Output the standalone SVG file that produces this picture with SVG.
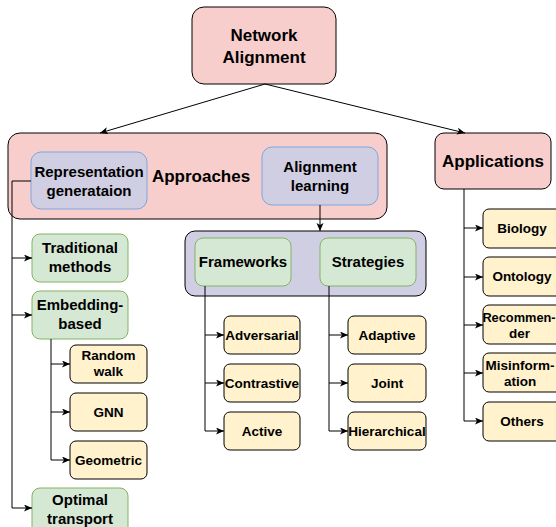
<svg xmlns="http://www.w3.org/2000/svg" width="556" height="527" viewBox="0 0 556 527">
<defs>
<marker id="ah" markerWidth="10" markerHeight="8" refX="8" refY="3.5" orient="auto" markerUnits="userSpaceOnUse">
<path d="M0,0 L8,3.5 L0,7 L2,3.5 z" fill="#000"/>
</marker>
<style>
text{font-family:"Liberation Sans",Arial,sans-serif;font-weight:bold;fill:#000;text-anchor:middle}
.pink{fill:#f8cecc;stroke:#000;stroke-width:1}
.lav{fill:#d0cee2;stroke:#7ea6e0;stroke-width:1}
.cont{fill:#d0cee2;stroke:#000;stroke-width:1}
.green{fill:#d5e8d4;stroke:#82b366;stroke-width:1}
.yel{fill:#fff2cc;stroke:#000;stroke-width:1}
.c{fill:none;stroke:#000;stroke-width:1}
.a{fill:none;stroke:#000;stroke-width:1;marker-end:url(#ah)}
.big{font-size:17px}
.mid{font-size:15px}
.sm{font-size:13.5px}
.xs{font-size:12.8px}
</style>
</defs>
<rect width="556" height="527" fill="#fff"/>

<g id="network-alignment">
<rect class="pink" x="192" y="7" width="144" height="77" rx="12"/>
<text class="big" x="264" y="41">Network</text>
<text class="big" x="264" y="63">Alignment</text>
</g>

<g id="approaches">
<rect class="pink" x="8" y="133" width="379" height="86" rx="12"/>
<text class="big" x="201" y="182">Approaches</text>
</g>

<g id="representation-generation">
<rect class="lav" x="31" y="152" width="116" height="57" rx="10"/>
<text class="mid" x="89" y="177">Representation</text>
<text class="mid" x="89" y="196">generataion</text>
</g>

<g id="alignment-learning">
<rect class="lav" x="262" y="147" width="116" height="58" rx="10"/>
<text class="mid" x="320" y="172">Alignment</text>
<text class="mid" x="320" y="191">learning</text>
</g>

<g id="applications">
<rect class="pink" x="435" y="133" width="116" height="56" rx="9"/>
<text class="big" x="493" y="167">Applications</text>
</g>

<g id="alignment-container">
<rect class="cont" x="185" y="231" width="241" height="65" rx="10"/>
</g>

<g id="frameworks">
<rect class="green" x="195" y="238" width="96" height="48" rx="8"/>
<text class="mid" x="243" y="267">Frameworks</text>
</g>

<g id="strategies">
<rect class="green" x="320" y="238" width="96" height="48" rx="8"/>
<text class="mid" x="368" y="267">Strategies</text>
</g>

<g id="traditional-methods">
<rect class="green" x="32" y="234" width="96" height="48" rx="8"/>
<text class="mid" x="80" y="253">Traditional</text>
<text class="mid" x="80" y="272">methods</text>
</g>

<g id="embedding-based">
<rect class="green" x="32" y="291" width="96" height="48" rx="8"/>
<text class="mid" x="80" y="310">Embedding-</text>
<text class="mid" x="80" y="329">based</text>
</g>

<g id="optimal-transport">
<rect class="green" x="32" y="488" width="96" height="48" rx="8"/>
<text class="mid" x="80" y="505">Optimal</text>
<text class="mid" x="80" y="524">transport</text>
</g>

<g id="random-walk">
<rect class="yel" x="70" y="345" width="77" height="38" rx="6"/>
<text class="sm" x="108.5" y="360">Random</text>
<text class="sm" x="108.5" y="376">walk</text>
</g>

<g id="gnn">
<rect class="yel" x="70" y="393" width="77" height="38" rx="6"/>
<text class="sm" x="108.5" y="417">GNN</text>
</g>

<g id="geometric">
<rect class="yel" x="70" y="441" width="77" height="38" rx="6"/>
<text class="sm" x="108.5" y="465">Geometric</text>
</g>

<g id="adversarial">
<rect class="yel" x="224" y="316" width="76" height="38" rx="6"/>
<text class="sm" x="262" y="340">Adversarial</text>
</g>

<g id="contrastive">
<rect class="yel" x="224" y="364" width="76" height="38" rx="6"/>
<text class="sm" x="262" y="388">Contrastive</text>
</g>

<g id="active">
<rect class="yel" x="224" y="412" width="76" height="38" rx="6"/>
<text class="sm" x="262" y="436">Active</text>
</g>

<g id="adaptive">
<rect class="yel" x="348" y="316" width="78" height="38" rx="6"/>
<text class="sm" x="387" y="340">Adaptive</text>
</g>

<g id="joint">
<rect class="yel" x="348" y="364" width="78" height="38" rx="6"/>
<text class="sm" x="387" y="388">Joint</text>
</g>

<g id="hierarchical">
<rect class="yel" x="348" y="412" width="78" height="38" rx="6"/>
<text class="sm" x="387" y="436">Hierarchical</text>
</g>

<g id="biology">
<rect class="yel" x="483" y="209" width="80" height="39" rx="6"/>
<text class="sm" x="522" y="233">Biology</text>
</g>

<g id="ontology">
<rect class="yel" x="483" y="257" width="80" height="39" rx="6"/>
<text class="sm" x="522" y="281">Ontology</text>
</g>

<g id="recommender">
<rect class="yel" x="483" y="305" width="80" height="39" rx="6"/>
<text class="xs" x="519" y="322">Recommen-</text>
<text class="sm" x="519.5" y="338">der</text>
</g>

<g id="misinformation">
<rect class="yel" x="483" y="353" width="80" height="39" rx="6"/>
<text class="sm" x="520" y="370">Misinform-</text>
<text class="sm" x="520" y="386">ation</text>
</g>

<g id="others">
<rect class="yel" x="483" y="402" width="80" height="39" rx="6"/>
<text class="sm" x="522" y="426">Others</text>
</g>

<g id="connectors">
<line class="a" x1="265" y1="84" x2="100" y2="133"/>
<line class="a" x1="265" y1="84" x2="465" y2="133"/>
<line class="a" x1="320" y1="205" x2="320" y2="231"/>

<polyline class="c" points="31,181 12,181 12,508"/>
<line class="a" x1="12" y1="258" x2="32" y2="258"/>
<line class="a" x1="12" y1="315" x2="32" y2="315"/>
<line class="a" x1="12" y1="508" x2="32" y2="508"/>

<line class="c" x1="51" y1="339" x2="51" y2="460"/>
<line class="a" x1="51" y1="364" x2="70" y2="364"/>
<line class="a" x1="51" y1="412" x2="70" y2="412"/>
<line class="a" x1="51" y1="460" x2="70" y2="460"/>

<line class="c" x1="205" y1="286" x2="205" y2="431"/>
<line class="a" x1="205" y1="335" x2="224" y2="335"/>
<line class="a" x1="205" y1="383" x2="224" y2="383"/>
<line class="a" x1="205" y1="431" x2="224" y2="431"/>

<line class="c" x1="329" y1="286" x2="329" y2="431"/>
<line class="a" x1="329" y1="335" x2="348" y2="335"/>
<line class="a" x1="329" y1="383" x2="348" y2="383"/>
<line class="a" x1="329" y1="431" x2="348" y2="431"/>

<line class="c" x1="464" y1="189" x2="464" y2="421"/>
<line class="a" x1="464" y1="228" x2="483" y2="228"/>
<line class="a" x1="464" y1="277" x2="483" y2="277"/>
<line class="a" x1="464" y1="325" x2="483" y2="325"/>
<line class="a" x1="464" y1="373" x2="483" y2="373"/>
<line class="a" x1="464" y1="421" x2="483" y2="421"/>
</g>
</svg>
